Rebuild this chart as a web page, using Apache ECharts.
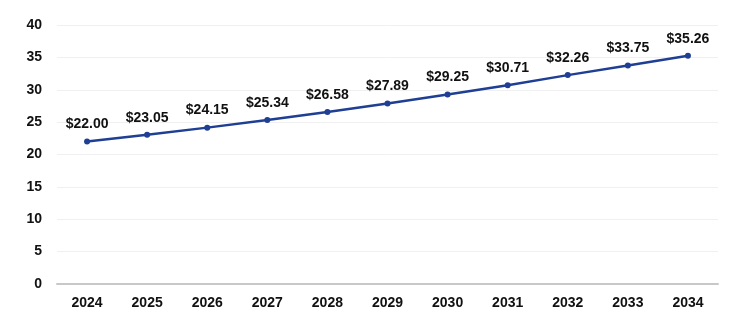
<!DOCTYPE html>
<html>
<head>
<meta charset="utf-8">
<script src="https://cdn.jsdelivr.net/npm/echarts@6/dist/echarts.min.js"></script>
<style>
html,body{margin:0;padding:0;background:#fff;}
#chart{width:731px;height:325px;}
</style>
</head>
<body>
<div id="chart"></div>
<script>
const years = ['2024','2025','2026','2027','2028','2029','2030','2031','2032','2033','2034'];
const values = [22.00, 23.05, 24.15, 25.34, 26.58, 27.89, 29.25, 30.71, 32.26, 33.75, 35.26];
const yTicks = [0, 5, 10, 15, 20, 25, 30, 35, 40];

const chart = echarts.init(document.getElementById('chart'), null, {renderer: 'canvas'});
chart.setOption({
  animation: false,
  backgroundColor: '#ffffff',
  grid: {left: 57, right: 13, top: 25, bottom: 41, containLabel: false},
  xAxis: {
    type: 'category',
    data: years,
    boundaryGap: true,
    axisLine: {show: true, lineStyle: {color: '#c8c8c8', width: 2}},
    axisTick: {show: false},
    axisLabel: {
      margin: 12,
      color: '#111',
      fontFamily: 'Liberation Sans, Arial, sans-serif',
      fontWeight: 'bold',
      fontSize: 14
    }
  },
  yAxis: {
    type: 'value',
    min: yTicks[0],
    max: yTicks[yTicks.length - 1],
    interval: 5,
    axisLine: {show: false},
    axisTick: {show: false},
    splitLine: {lineStyle: {color: '#f0f0f0', width: 1}},
    axisLabel: {
      margin: 15,
      color: '#111',
      fontFamily: 'Liberation Sans, Arial, sans-serif',
      fontWeight: 'bold',
      fontSize: 14
    }
  },
  series: [{
    type: 'line',
    data: values,
    symbol: 'circle',
    symbolSize: 6,
    lineStyle: {color: '#1f3f94', width: 2.5},
    itemStyle: {color: '#1f3f94'},
    label: {
      show: true,
      position: 'top',
      distance: 7,
      color: '#111',
      fontFamily: 'Liberation Sans, Arial, sans-serif',
      fontWeight: 'bold',
      fontSize: 14,
      formatter: p => '$' + p.value.toFixed(2)
    }
  }]
});
</script>
</body>
</html>
